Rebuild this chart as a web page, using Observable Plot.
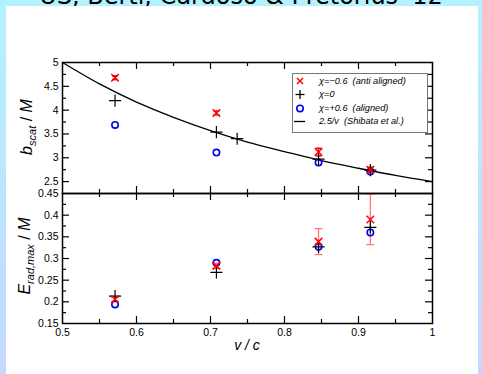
<!DOCTYPE html>
<html><head><meta charset="utf-8">
<script src="https://cdn.jsdelivr.net/npm/d3@7"></script>
<script src="https://cdn.jsdelivr.net/npm/@observablehq/plot@0.6"></script>
<style>
html,body{margin:0;padding:0;}
body{width:482px;height:374px;overflow:hidden;position:relative;background:linear-gradient(#b4f2ff,#c4d8ff);font-family:"Liberation Sans",Arial,sans-serif;}
#title{position:absolute;left:0;width:482px;top:-18px;text-align:center;font:24px "DejaVu Sans",sans-serif;color:#000;white-space:nowrap;}
#panel{position:absolute;left:6px;top:6px;width:472px;height:368px;background:#fff;}
.abs{position:absolute;}
.rot{position:absolute;transform:translate(-50%,-50%) rotate(-90deg);white-space:nowrap;font-family:"Liberation Sans",Arial,sans-serif;color:#000;}
#legend{position:absolute;left:292px;top:73px;width:136px;height:60px;border:1px solid #777;background:#fff;box-sizing:border-box;}
.lrow{position:absolute;left:0;height:13px;width:135px;font:italic 9.2px "Liberation Sans",Arial,sans-serif;color:#000;}
.lrow svg{position:absolute;left:0;top:0;}
.lrow span{position:absolute;left:26px;top:0px;line-height:13px;white-space:pre;}
</style></head><body>
<div id="title">US, Berti, Cardoso &amp; Pretorius '12</div>
<div id="panel"></div>
<div id="topplot" class="abs" style="left:0;top:0"></div>
<div id="botplot" class="abs" style="left:0;top:180px"></div>
<div class="rot" style="left:28px;top:127px;font-size:16px"><i>b</i><sub style="font-size:11px;font-style:italic">scat</sub> / <i>M</i></div>
<div class="rot" style="left:26px;top:256px;font-size:16px"><i>E</i><sub style="font-size:11px;font-style:italic">rad,max</sub> / <i>M</i></div>
<div class="abs" style="left:247px;top:345px;transform:translate(-50%,-50%);font:italic 14px 'Liberation Sans',Arial,sans-serif;white-space:nowrap">v / c</div>
<div id="legend"></div>
<script>
// ---------- data ----------
const vAnti = [0.571, 0.708, 0.846, 0.916];
const bAnti = [4.68, 3.94, 3.12, 2.75];
const bAntiErr = [0.04, 0.04, 0.08, 0.05];
const vZero = [0.571, 0.708, 0.736, 0.846, 0.916];
const bZero = [4.20, 3.54, 3.40, 2.97, 2.74];
const vAligned = [0.571, 0.708, 0.846, 0.916];
const bAligned = [3.69, 3.11, 2.90, 2.71];

const vCurve = [0.50, 0.55, 0.60, 0.65, 0.70, 0.75, 0.80, 0.85, 0.90, 0.95, 1.00];
const bCurve = [5.00, 4.55, 4.17, 3.85, 3.57, 3.33, 3.13, 2.94, 2.78, 2.63, 2.50];

const vE = [0.571, 0.708, 0.846, 0.916];
const eAnti = [0.206, 0.283, 0.339, 0.390];
const eAntiErr = [0.004, 0.006, 0.030, 0.058];
const eZero = [0.213, 0.268, 0.327, 0.372];
const eAligned = [0.194, 0.290, 0.327, 0.360];

const xMajor = [0.6, 0.7, 0.8, 0.9];
const xMinor = [0.55, 0.65, 0.75, 0.85, 0.95];
const xLabels = [0.5, 0.6, 0.7, 0.8, 0.9, 1];
const yTopLabels = [2.5, 3, 3.5, 4, 4.5, 5];
const yTopMajor = [2.5, 3, 3.5, 4, 4.5];
const yTopMinor = [2.75, 3.25, 3.75, 4.25, 4.75];
const yBotLabels = [0.15, 0.2, 0.25, 0.3, 0.35, 0.4, 0.45];
const yBotMajor = [0.2, 0.25, 0.3, 0.35, 0.4];
const yBotMinor = [0.175, 0.225, 0.275, 0.325, 0.375, 0.425];

const legendLabels = ["χ=−0.6  (anti aligned)", "χ=0", "χ=+0.6  (aligned)", "2.5/v  (Shibata et al.)"];

// ---------- helpers ----------
const capSymbol = {draw(ctx, size) { const r = Math.sqrt(size / Math.PI); ctx.moveTo(-r, 0); ctx.lineTo(r, 0); }};
const FW = 370; // frame width
const MAJ = 7, MIN = 4;
function frameTicks(fh, yMaj, yMin) {
  return [
    Plot.tickX(xMajor, {x: d => d, insetBottom: fh - MAJ, stroke: "#000", strokeWidth: 1.2}),
    Plot.tickX(xMajor, {x: d => d, insetTop: fh - MAJ, stroke: "#000", strokeWidth: 1.2}),
    Plot.tickX(xMinor, {x: d => d, insetBottom: fh - MIN, stroke: "#000", strokeWidth: 1.2}),
    Plot.tickX(xMinor, {x: d => d, insetTop: fh - MIN, stroke: "#000", strokeWidth: 1.2}),
    Plot.tickY(yMaj, {y: d => d, insetRight: FW - MAJ, stroke: "#000", strokeWidth: 1.2}),
    Plot.tickY(yMaj, {y: d => d, insetLeft: FW - MAJ, stroke: "#000", strokeWidth: 1.2}),
    Plot.tickY(yMin, {y: d => d, insetRight: FW - MIN, stroke: "#000", strokeWidth: 1.2}),
    Plot.tickY(yMin, {y: d => d, insetLeft: FW - MIN, stroke: "#000", strokeWidth: 1.2}),
    Plot.frame({stroke: "#000", strokeWidth: 1.5})
  ];
}
const style = {background: "transparent", fontFamily: "'Liberation Sans', Arial, sans-serif", fontSize: "10.5px", color: "#000", overflow: "visible"};

// ---------- top panel ----------
const topAnti = vAnti.map((v, i) => ({v, b: bAnti[i], e: bAntiErr[i]}));
const topZero = vZero.map((v, i) => ({v, b: bZero[i]}));
const topAl = vAligned.map((v, i) => ({v, b: bAligned[i]}));
const curve = vCurve.map((v, i) => ({v, b: bCurve[i]}));

const topPlot = Plot.plot({
  width: 482, height: 200, marginLeft: 62, marginRight: 50, marginTop: 62, marginBottom: 7,
  x: {domain: [0.5, 1], axis: null},
  y: {domain: [2.25, 5]},
  style,
  marks: [
    Plot.axisY(yTopLabels, {anchor: "left", tickSize: 0, tickPadding: 4, tickFormat: d => String(d), label: null}),
    Plot.line(curve, {x: "v", y: "b", stroke: "#000", strokeWidth: 1.3, curve: "natural"}),
    Plot.ruleX(topAnti, {x: "v", y1: d => d.b - d.e, y2: d => d.b + d.e, stroke: "red", strokeWidth: 1.5}),
    Plot.dot(topAnti, {x: "v", y: d => d.b - d.e, symbol: capSymbol, r: 3, stroke: "red", strokeWidth: 1.5}),
    Plot.dot(topAnti, {x: "v", y: d => d.b + d.e, symbol: capSymbol, r: 3, stroke: "red", strokeWidth: 1.5}),
    Plot.dot(topAl, {x: "v", y: "b", symbol: "circle", r: 3.2, stroke: "#0000ee", fill: "none", strokeWidth: 1.6}),
    Plot.dot(topZero, {x: "v", y: "b", symbol: "plus", r: 4, stroke: "#000", strokeWidth: 1.2}),
    Plot.dot(topAnti, {x: "v", y: "b", symbol: "times", r: 3.5, stroke: "red", strokeWidth: 1.5}),
    ...frameTicks(131, yTopMajor, yTopMinor)
  ]
});
document.getElementById("topplot").appendChild(topPlot);

// ---------- bottom panel ----------
const botAnti = vE.map((v, i) => ({v, e: eAnti[i], err: eAntiErr[i]}));
const botZero = vE.map((v, i) => ({v, e: eZero[i]}));
const botAl = vE.map((v, i) => ({v, e: eAligned[i]}));

const botPlot = Plot.plot({
  width: 482, height: 165, marginLeft: 62, marginRight: 50, marginTop: 13, marginBottom: 22,
  x: {domain: [0.5, 1]},
  y: {domain: [0.15, 0.45]},
  style,
  marks: [
    Plot.axisY(yBotLabels, {anchor: "left", tickSize: 0, tickPadding: 4, tickFormat: d => String(d), label: null}),
    Plot.axisX(xLabels, {anchor: "bottom", tickSize: 0, tickPadding: 5, tickFormat: d => String(d), label: null}),
    Plot.ruleX(botAnti, {x: "v", y1: d => d.e - d.err, y2: d => d.e + d.err, stroke: "#ff7070", strokeWidth: 1.2}),
    Plot.dot(botAnti, {x: "v", y: d => d.e - d.err, symbol: capSymbol, r: 4, stroke: "#ff7070", strokeWidth: 1.2}),
    Plot.dot(botAnti, {x: "v", y: d => d.e + d.err, symbol: capSymbol, r: 4, stroke: "#ff7070", strokeWidth: 1.2}),
    Plot.dot(botAl, {x: "v", y: "e", symbol: "circle", r: 3.2, stroke: "#0000ee", fill: "none", strokeWidth: 1.6}),
    Plot.dot(botZero, {x: "v", y: "e", symbol: "plus", r: 4, stroke: "#000", strokeWidth: 1.2}),
    Plot.dot(botAnti, {x: "v", y: "e", symbol: "times", r: 3.5, stroke: "red", strokeWidth: 1.5}),
    ...frameTicks(130, yBotMajor, yBotMinor)
  ]
});
document.getElementById("botplot").appendChild(botPlot);

// ---------- legend ----------
const legend = document.getElementById("legend");
const symbols = [
  '<line x1="4" y1="3" x2="10" y2="9" stroke="red" stroke-width="1.5"/><line x1="10" y1="3" x2="4" y2="9" stroke="red" stroke-width="1.5"/>',
  '<line x1="2.5" y1="6.5" x2="11.5" y2="6.5" stroke="#000" stroke-width="1.3"/><line x1="7" y1="2" x2="7" y2="11" stroke="#000" stroke-width="1.3"/>',
  '<circle cx="7" cy="6.5" r="3.2" fill="none" stroke="#0000ee" stroke-width="1.6"/>',
  '<line x1="1" y1="6.5" x2="12" y2="6.5" stroke="#000" stroke-width="1.3"/>'
];
legendLabels.forEach((t, i) => {
  const row = document.createElement("div");
  row.className = "lrow";
  row.style.top = (1 + i * 13.3) + "px";
  row.innerHTML = `<svg width="20" height="13" style="left:0px">${symbols[i]}</svg><span>${t}</span>`;
  legend.appendChild(row);
});
</script>
</body></html>
